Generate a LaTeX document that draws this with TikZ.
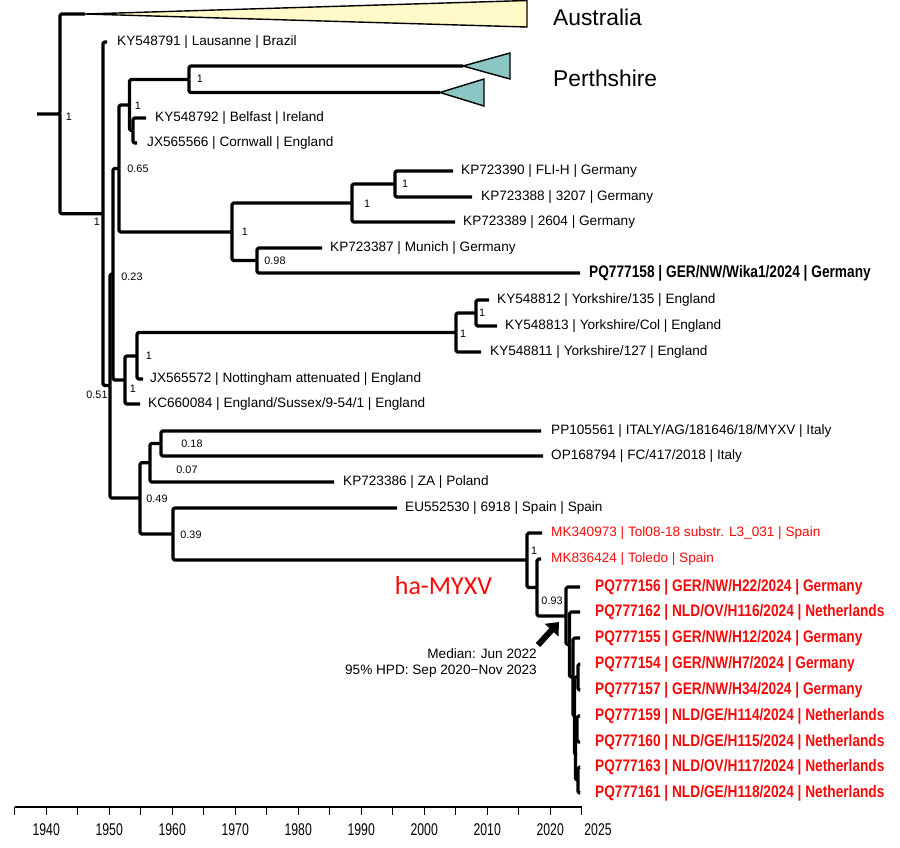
\documentclass[tikz,border=0pt]{standalone}
\usepackage{fontspec}
\setmainfont{Liberation Sans}
\newfontfamily\clfont{Carlito}
\usepackage{graphicx}
\usetikzlibrary{arrows.meta}
\definecolor{austyellow}{RGB}{255,250,200}
\definecolor{perthteal}{RGB}{140,198,196}
\definecolor{hared}{RGB}{245,10,10}
\newcommand{\narrow}[1]{\scalebox{0.82}[1]{#1}}
\newcommand{\yrnarrow}[1]{\scalebox{0.72}[1]{#1}}
\begin{document}
\begin{tikzpicture}[x=1pt, y=-1pt,
	branch/.style={line width=3.2pt, line join=round, rounded corners=1.5pt},
	taxon/.style={anchor=west, inner sep=0pt, font=\fontsize{13.6}{16}\selectfont},
	bigtaxon/.style={anchor=west, inner sep=0pt, font=\fontsize{16.7}{19}\selectfont\bfseries},
	support/.style={inner sep=0pt, font=\fontsize{10.8}{12}\selectfont},
	clade/.style={draw=black, line width=1.4pt, line join=miter},
	yearlbl/.style={inner sep=0pt, font=\fontsize{17}{20}\selectfont}]
	\useasboundingbox (0,0) rectangle (900,847);

	\coordinate (rootstub) at (37,113.9);
	\coordinate (root) at (60,113.9);
	\coordinate (austr) at (85,14);
	\coordinate (nA) at (103,213.8);
	\coordinate (nU) at (110,385.5);
	\coordinate (nR) at (113,274);
	\coordinate (nQ) at (119,168.5);
	\coordinate (nP) at (129.5,105);
	\coordinate (nPerth) at (189,79.5);
	\coordinate (perthA) at (463,66);
	\coordinate (perthB) at (440,92.5);
	\coordinate (nBC) at (133,130.5);
	\coordinate (nKG) at (232,232);
	\coordinate (nK1) at (352,203);
	\coordinate (nK1a) at (395,184);
	\coordinate (nK2) at (257,260.5);
	\coordinate (nS) at (125,380);
	\coordinate (nS2) at (137,356);
	\coordinate (nY1) at (456,332.5);
	\coordinate (nY2) at (476,313);
	\coordinate (nT) at (140,498);
	\coordinate (nV) at (150,462.75);
	\coordinate (nW) at (161,443.5);
	\coordinate (nX) at (173,534);
	\coordinate (nSp) at (527,560);
	\coordinate (nZ) at (537,587.5);
	\coordinate (nHa) at (566,616);
	\coordinate (nHb) at (569.5,644.5);
	\coordinate (nHc) at (573,677);
	\coordinate (nHd) at (574.5,716);
	\coordinate (nHe) at (575.5,754.5);
	\coordinate (nH1) at (578,677);
	\coordinate (nH2) at (577,729);
	\coordinate (nH3) at (578,780);

	\coordinate (e791) at (107,42);
	\coordinate (e792) at (146,118);
	\coordinate (e566) at (137,143);
	\coordinate (e390) at (453,171);
	\coordinate (e388) at (472,197);
	\coordinate (e389) at (455,222);
	\coordinate (e387) at (322,248);
	\coordinate (e158) at (580,273);
	\coordinate (e812) at (489,300);
	\coordinate (e813) at (497,326);
	\coordinate (e811) at (481,352);
	\coordinate (e572) at (143,379);
	\coordinate (e084) at (140,404);
	\coordinate (e561) at (541,431);
	\coordinate (e794) at (543,456);
	\coordinate (e386) at (334,482);
	\coordinate (e530) at (397,508);
	\coordinate (e973) at (542,533);
	\coordinate (e424) at (541,559);
	\coordinate (e156) at (580,587);
	\coordinate (e162) at (580,612);
	\coordinate (e155) at (580,638);
	\coordinate (e154) at (580,664);
	\coordinate (e157) at (580,690);
	\coordinate (e159) at (580,716);
	\coordinate (e160) at (580,742);
	\coordinate (e163) at (580,767);
	\coordinate (e161) at (580,793);

	\filldraw[clade, fill=austyellow] (austr) -- (527,0.5) -- (527,27) -- cycle;
	\filldraw[clade, fill=perthteal] (perthA) -- (510,53) -- (510,79) -- cycle;
	\filldraw[clade, fill=perthteal] (perthB) -- (484,79) -- (484,106) -- cycle;

	\draw[branch] (rootstub) -- (root) |- (austr);
	\foreach \p/\c in {root/nA, nA/e791, nA/nU, nU/nR, nU/nT, nR/nQ, nR/nS,
		nQ/nP, nQ/nKG, nP/nPerth, nP/nBC, nPerth/perthA, nPerth/perthB,
		nBC/e792, nBC/e566, nKG/nK1, nKG/nK2, nK1/nK1a, nK1/e389,
		nK1a/e390, nK1a/e388, nK2/e387, nK2/e158, nS/nS2, nS/e084,
		nS2/nY1, nS2/e572, nY1/nY2, nY1/e811, nY2/e812, nY2/e813,
		nT/nV, nT/nX, nV/nW, nV/e386, nW/e561, nW/e794, nX/e530, nX/nSp,
		nSp/e973, nSp/nZ, nZ/e424, nZ/nHa, nHa/e156, nHa/nHb, nHb/e162,
		nHb/nHc, nHc/e155, nHc/nHd, nHd/nH1, nHd/nHe, nHe/nH2, nHe/nH3,
		nH1/e154, nH1/e157, nH2/e159, nH2/e160, nH3/e163, nH3/e161}
		\draw[branch] (\p) |- (\c);

	\node[taxon] (t791) at (117,42) {KY548791 | Lausanne | Brazil};
	\node[taxon] (t792) at (155,118) {KY548792 | Belfast | Ireland};
	\node[taxon] (t566) at (147,143) {JX565566 | Cornwall | England};
	\node[taxon] (t390) at (461,171) {KP723390 | FLI-H | Germany};
	\node[taxon] (t388) at (481,197) {KP723388 | 3207 | Germany};
	\node[taxon] (t389) at (463,222) {KP723389 | 2604 | Germany};
	\node[taxon] (t387) at (330,248) {KP723387 | Munich | Germany};
	\node[bigtaxon] (t158) at (589,273) {\narrow{PQ777158 | GER/NW/Wika1/2024 | Germany}};
	\node[taxon] (t812) at (497,300) {KY548812 | Yorkshire/135 | England};
	\node[taxon] (t813) at (505,326) {KY548813 | Yorkshire/Col | England};
	\node[taxon] (t811) at (490,352) {KY548811 | Yorkshire/127 | England};
	\node[taxon] (t572) at (150,379) {JX565572 | Nottingham attenuated | England};
	\node[taxon] (t084) at (148,404) {KC660084 | England/Sussex/9-54/1 | England};
	\node[taxon] (t561) at (551,431) {PP105561 | ITALY/AG/181646/18/MYXV | Italy};
	\node[taxon] (t794) at (551,456) {OP168794 | FC/417/2018 | Italy};
	\node[taxon] (t386) at (343,482) {KP723386 | ZA | Poland};
	\node[taxon] (t530) at (405,508) {EU552530 | 6918 | Spain | Spain};
	\node[taxon, text=hared] (t973) at (551,533) {MK340973 | Tol08-18 substr. L3\_031 | Spain};
	\node[taxon, text=hared] (t424) at (551,559) {MK836424 | Toledo | Spain};
	\node[bigtaxon, text=hared] (t156) at (595,587) {\narrow{PQ777156 | GER/NW/H22/2024 | Germany}};
	\node[bigtaxon, text=hared] (t162) at (595,612) {\narrow{PQ777162 | NLD/OV/H116/2024 | Netherlands}};
	\node[bigtaxon, text=hared] (t155) at (595,638) {\narrow{PQ777155 | GER/NW/H12/2024 | Germany}};
	\node[bigtaxon, text=hared] (t154) at (595,664) {\narrow{PQ777154 | GER/NW/H7/2024 | Germany}};
	\node[bigtaxon, text=hared] (t157) at (595,690) {\narrow{PQ777157 | GER/NW/H34/2024 | Germany}};
	\node[bigtaxon, text=hared] (t159) at (595,716) {\narrow{PQ777159 | NLD/GE/H114/2024 | Netherlands}};
	\node[bigtaxon, text=hared] (t160) at (595,742) {\narrow{PQ777160 | NLD/GE/H115/2024 | Netherlands}};
	\node[bigtaxon, text=hared] (t163) at (595,767) {\narrow{PQ777163 | NLD/OV/H117/2024 | Netherlands}};
	\node[bigtaxon, text=hared] (t161) at (595,793) {\narrow{PQ777161 | NLD/GE/H118/2024 | Netherlands}};

	\node[anchor=west, inner sep=0pt, font=\fontsize{22.8}{26}\selectfont] (australia) at (553,17) {Australia};
	\node[anchor=west, inner sep=0pt, font=\fontsize{22.8}{26}\selectfont] (perthshire) at (553,78) {Perthshire};
	\node[inner sep=0pt, text=hared, font=\clfont\fontsize{26}{30}\selectfont] (hamyxv) at (443.5,586) {ha-MYXV};

	\node[support] (sroot) at (69,117) {1};
	\node[support] (sA) at (97,222) {1};
	\node[support] (sPerth) at (200,79) {1};
	\node[support] (sP) at (138,106) {1};
	\node[support] (sQ) at (138,169) {0.65};
	\node[support] (sR) at (132,277) {0.23};
	\node[support] (sKG) at (245,232) {1};
	\node[support] (sK1) at (367,204) {1};
	\node[support] (sK1a) at (405,184) {1};
	\node[support] (sK2) at (275,261) {0.98};
	\node[support] (sY1) at (463,334) {1};
	\node[support] (sY2) at (482,313) {1};
	\node[support] (sS2) at (149,356) {1};
	\node[support] (sS) at (133,389) {1};
	\node[support] (sU) at (97,395) {0.51};
	\node[support] (sW) at (192,444) {0.18};
	\node[support] (sV) at (187,470) {0.07};
	\node[support] (sT) at (157,499) {0.49};
	\node[support] (sX) at (191,535) {0.39};
	\node[support] (sSp) at (534,551) {1};
	\node[support] (sZ) at (552,601) {0.93};

	\node[anchor=north east, align=right, inner sep=0pt, font=\fontsize{13.6}{16.5}\selectfont] (hpd) at (537,648) {Median: Jun 2022\\95\% HPD: Sep 2020−Nov 2023};
	\coordinate (hpdtail) at (538,645);
	\coordinate (hpdtip) at (559,622);
	\draw[line width=6pt, -{Triangle[length=11pt, width=18pt]}] (hpdtail) -- (hpdtip);

	\coordinate (axl) at (14.7,807);
	\coordinate (axr) at (581.7,807);
	\draw[line width=1.6pt] (axl) -- (axr);
	\foreach \yr in {1935,1940,...,2025}
		\draw[line width=1.3pt] ({46.2+(\yr-1940)*6.3},807) -- ++(0,8);
	\foreach \yr in {1940,1950,...,2020}
		\node[yearlbl] (yr\yr) at ({46.2+(\yr-1940)*6.3},830) {\yrnarrow{\yr}};
	\node[yearlbl] (yr2025) at (598,830) {\yrnarrow{2025}};
\end{tikzpicture}
\end{document}
